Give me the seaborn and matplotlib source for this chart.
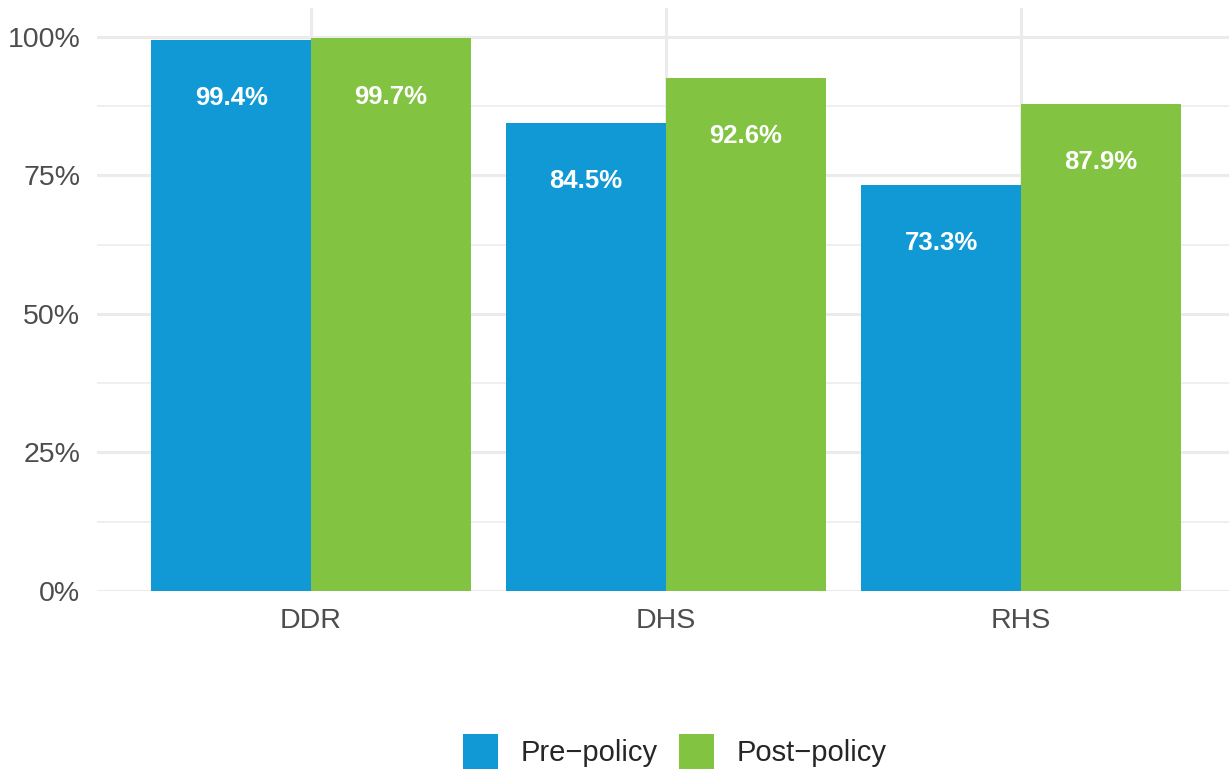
import matplotlib
matplotlib.use("Agg")
import matplotlib.pyplot as plt
import seaborn as sns
import pandas as pd
from matplotlib.patches import Patch

categories = ["DDR", "DHS", "RHS"]
periods = ["Pre\u2212policy", "Post\u2212policy"]
pre_values = [99.4, 84.5, 73.3]
post_values = [99.7, 92.6, 87.9]
y_ticks = [0, 25, 50, 75, 100]
y_tick_labels = ["0%", "25%", "50%", "75%", "100%"]
colors = ["#1199D6", "#82C341"]

df = pd.DataFrame({
    "category": categories * 2,
    "period": [periods[0]] * 3 + [periods[1]] * 3,
    "value": pre_values + post_values,
})

sns.set_theme(style="whitegrid")
plt.rcParams["font.family"] = ["Liberation Sans", "DejaVu Sans"]

fig = plt.figure(figsize=(12.29, 7.7), dpi=100)
ax = fig.add_axes([97 / 1229, (770 - 591) / 770, 1 - 97 / 1229, (591 - 8) / 770])

sns.barplot(data=df, x="category", y="value", hue="period", order=categories,
            hue_order=periods, palette=colors, width=0.9, saturation=1,
            errorbar=None, ax=ax, legend=False, linewidth=0)

ax.set_xlim(-0.603, 2.586)
ax.set_ylim(0, 105.2)
ax.set_yticks(y_ticks)
ax.set_yticklabels(y_tick_labels)
ax.set_yticks([12.5, 37.5, 62.5, 87.5], minor=True)
ax.set_xlabel("")
ax.set_ylabel("")
ax.set_facecolor("white")
for s in ax.spines.values():
    s.set_visible(False)
ax.grid(True, which="major", axis="both", color="#EBEBEB", linewidth=2.2)
ax.grid(True, which="minor", axis="y", color="#EBEBEB", linewidth=1.1)
ax.set_axisbelow(True)
ax.tick_params(axis="both", which="both", length=0, labelsize=20.5, labelcolor="#4D4D4D")
ax.tick_params(axis="y", pad=12)
ax.tick_params(axis="x", pad=12)

for bar in ax.patches:
    h = bar.get_height()
    if h <= 0:
        continue
    ax.text(bar.get_x() + bar.get_width() / 2, h - 10.5, f"{h:.1f}%",
            ha="center", va="center", color="white", fontsize=18.5, fontweight="bold")

handles = [Patch(facecolor=c, edgecolor="none") for c in colors]
fig.legend(handles, periods, loc="center", ncol=2, frameon=False,
           fontsize=21, handlelength=1.2, handleheight=1.45, handletextpad=0.79,
           columnspacing=0.72, bbox_to_anchor=(0.549, 0.024))

fig.savefig("out.png", dpi=100)
